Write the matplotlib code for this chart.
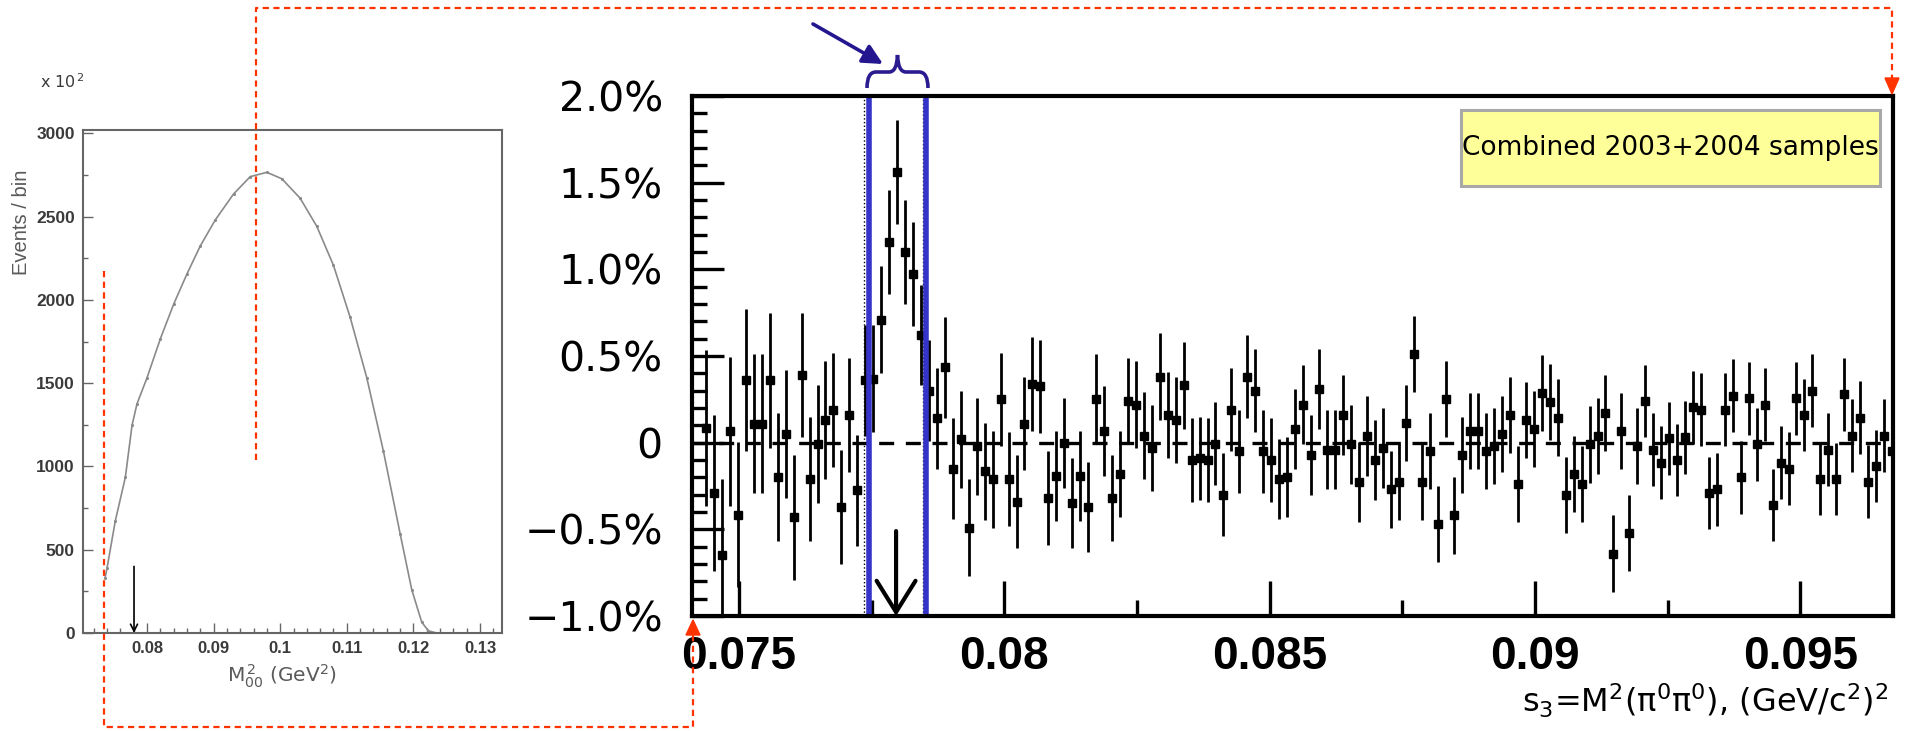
import numpy as np
import matplotlib
matplotlib.use("Agg")
import matplotlib.pyplot as plt
from matplotlib.ticker import MultipleLocator
from matplotlib.patches import Rectangle, Polygon, PathPatch, FancyArrowPatch
from matplotlib.path import Path
from matplotlib.lines import Line2D

FIG_W, FIG_H = 1912, 731

# ---- main panel: residuals per s3 bin, in percent
S3_FIRST_BIN = 0.07438
S3_BIN_WIDTH = 0.00015
residual = [
    0.085, -0.29, -0.65, 0.065, -0.415, 0.36, 0.11, 0.11, 0.36, -0.20,
    0.05, -0.43, 0.39, -0.21, -0.01, 0.13, 0.19, -0.37, 0.16, -0.275,
    0.36, 0.37, 0.71, 1.16, 1.56, 1.10, 0.975, 0.62, 0.30, 0.14,
    0.435, -0.15, 0.02, -0.49, -0.02, -0.165, -0.21, 0.25, -0.21, -0.34,
    0.11, 0.34, 0.325, -0.32, -0.19, 0.0, -0.35, -0.19, -0.37, 0.25,
    0.067, -0.32, -0.18, 0.24, 0.22, 0.04, -0.03, 0.38, 0.16, 0.13,
    0.33, -0.10, -0.09, -0.10, -0.005, -0.30, 0.19, -0.05, 0.38, 0.30,
    -0.05, -0.10, -0.21, -0.20, 0.08, 0.22, -0.07, 0.31, -0.04, -0.04,
    0.16, -0.01, -0.225, 0.04, -0.10, -0.03, -0.27, -0.225, 0.115, 0.51,
    -0.225, -0.05, -0.47, 0.25, -0.42, -0.07, 0.067, 0.067, -0.05, -0.02,
    0.05, 0.16, -0.24, 0.13, 0.08, 0.285, 0.235, 0.145, -0.30, -0.18,
    -0.24, -0.01, 0.04, 0.17, -0.64, 0.067, -0.52, -0.02, 0.24, -0.04,
    -0.115, 0.025, -0.10, 0.03, 0.205, 0.19, -0.29, -0.27, 0.19, 0.27,
    -0.20, 0.255, -0.01, 0.22, -0.36, -0.115, -0.15, 0.255, 0.16, 0.30,
    -0.21, -0.04, -0.21, 0.28, 0.04, 0.145, -0.225, -0.135, 0.04, -0.05,
]
residual_err = [
    0.45, 0.45, 0.44, 0.43, 0.42, 0.41, 0.40, 0.40, 0.39, 0.37,
    0.37, 0.36, 0.36, 0.36, 0.34, 0.34, 0.33, 0.33, 0.33, 0.32,
    0.32, 0.31, 0.31, 0.30, 0.30, 0.30, 0.30, 0.29, 0.29, 0.29,
    0.29, 0.29, 0.28, 0.28, 0.28, 0.28, 0.28, 0.27, 0.27, 0.27,
    0.27, 0.27, 0.27, 0.27, 0.26, 0.26, 0.26, 0.26, 0.26, 0.26,
    0.26, 0.25, 0.25, 0.25, 0.25, 0.25, 0.25, 0.25, 0.25, 0.25,
    0.25, 0.24, 0.24, 0.24, 0.24, 0.24, 0.24, 0.24, 0.24, 0.24,
    0.24, 0.24, 0.23, 0.23, 0.23, 0.23, 0.23, 0.23, 0.23, 0.23,
    0.23, 0.23, 0.23, 0.23, 0.23, 0.23, 0.22, 0.22, 0.22, 0.22,
    0.22, 0.22, 0.22, 0.22, 0.22, 0.22, 0.22, 0.22, 0.22, 0.22,
    0.22, 0.22, 0.22, 0.22, 0.22, 0.22, 0.22, 0.22, 0.22, 0.22,
    0.22, 0.22, 0.22, 0.22, 0.22, 0.22, 0.22, 0.22, 0.21, 0.21,
    0.21, 0.21, 0.21, 0.21, 0.21, 0.21, 0.21, 0.21, 0.21, 0.21,
    0.21, 0.21, 0.21, 0.21, 0.21, 0.21, 0.21, 0.21, 0.21, 0.21,
    0.21, 0.21, 0.21, 0.21, 0.21, 0.21, 0.21, 0.21, 0.21, 0.21,
]

s3_ticks = [0.075, 0.08, 0.085, 0.09, 0.095]
s3_tick_labels = ["0.075", "0.08", "0.085", "0.09", "0.095"]
pct_ticks = [-1.0, -0.5, 0.0, 0.5, 1.0, 1.5, 2.0]
pct_tick_labels = ["\u22121.0%", "\u22120.5%", "0", "0.5%", "1.0%", "1.5%", "2.0%"]

cusp_window = [0.07745, 0.07853]     # blue lines
signal_edges = [0.077356, 0.078468]  # dotted lines
threshold_s3 = 0.07796               # 4 m(pi+)^2

# ---- left panel: M00^2 spectrum
m00_sq = [0.0737, 0.0740, 0.07525, 0.07675, 0.07775, 0.0785, 0.0800, 0.0820,
          0.0840, 0.0860, 0.0880, 0.09025, 0.0930, 0.0955, 0.0980, 0.10025,
          0.1030, 0.1055, 0.1080, 0.1105, 0.1130, 0.1155, 0.1180, 0.11975,
          0.12125, 0.12225, 0.1235]
events_per_bin = [330, 390, 675, 935, 1247, 1376, 1532, 1766,
                  1974, 2156, 2324, 2480, 2636, 2740, 2766, 2727,
                  2610, 2441, 2207, 1896, 1532, 1091, 597, 260,
                  65, 13, 0]
m00_ticks = [0.08, 0.09, 0.1, 0.11, 0.12, 0.13]
m00_tick_labels = ["0.08", "0.09", "0.1", "0.11", "0.12", "0.13"]
event_ticks = [0, 500, 1000, 1500, 2000, 2500, 3000]


def fx(px):
    return px / FIG_W


def fy(py):
    return 1 - py / FIG_H


fig = plt.figure(figsize=(FIG_W / 100, FIG_H / 100), dpi=100)

# ---------------- left panel
ax2 = fig.add_axes([fx(83), fy(633), (502 - 83) / FIG_W, (633 - 130) / FIG_H])
ax2.plot(m00_sq, events_per_bin, color="#8a8a8a", lw=1.2, marker=".", ms=2.5)
ax2.annotate("", xy=(0.07805, 0), xytext=(0.07805, 400),
             arrowprops=dict(arrowstyle="->,head_length=0.5,head_width=0.25",
                             color="black", lw=1.2, shrinkA=0, shrinkB=0))
ax2.set_xlim(0.07039, 0.1333)
ax2.set_ylim(0, 3020)
ax2.set_xticks(m00_ticks, m00_tick_labels, fontsize=12, fontweight="bold",
               family="Liberation Sans", color="#3a3a3a")
ax2.set_yticks(event_ticks, [str(v) for v in event_ticks], fontsize=12.5,
               fontweight="bold", family="Liberation Sans", color="#3a3a3a")
ax2.xaxis.set_minor_locator(MultipleLocator(0.002))
ax2.yaxis.set_minor_locator(MultipleLocator(250))
ax2.tick_params(which="both", direction="in", color="#666666", width=1.0)
ax2.tick_params(which="major", length=7, pad=6)
ax2.tick_params(which="minor", length=3.5)
for sp in ax2.spines.values():
    sp.set_color("#666666")
    sp.set_linewidth(1.5)

fig.text(fx(22), fy(222), "Events / bin", rotation=90, ha="center", va="center",
         fontsize=14.5, color="#5a5a5a", family="Liberation Sans")
fig.text(fx(40), fy(82), "x 10$^{\\,2}$", ha="left", va="center", fontsize=11.5,
         color="#3a3a3a")
fig.text(fx(282), fy(676), "M$_{00}^{\\,2}$ (GeV$^2$)", ha="center", va="center",
         fontsize=14.5, color="#5a5a5a")

# ---------------- main panel
ax = fig.add_axes([fx(692), fy(616), (1893 - 692) / FIG_W, (616 - 96) / FIG_H])
s3 = S3_FIRST_BIN + S3_BIN_WIDTH * np.arange(len(residual))
ax.axhline(0, color="black", lw=2.4, ls=(0, (4.5, 3.5)), zorder=1)
for xv in signal_edges:
    ax.axvline(xv, color="black", lw=1.0, ls=":", zorder=1)
ax.errorbar(s3, residual, yerr=residual_err, fmt="s", ms=5.2, color="black",
            ecolor="black", elinewidth=2.0, capsize=0, zorder=3)
for xv in cusp_window:
    ax.axvline(xv, color="#3434C8", lw=4.0, zorder=4)
ax.annotate("", xy=(threshold_s3, -1.0), xytext=(threshold_s3, -0.51),
            arrowprops=dict(arrowstyle="->,head_length=0.45,head_width=0.28",
                            mutation_scale=50, color="black", lw=3,
                            shrinkA=0, shrinkB=0), zorder=5)

ax.set_xlim(0.074114, 0.096749)
ax.set_ylim(-1.0, 2.0)
ax.set_xticks(s3_ticks, s3_tick_labels, fontsize=33, fontweight="bold",
              family="Liberation Sans")
ax.set_yticks(pct_ticks, pct_tick_labels, fontsize=29.5, family="DejaVu Sans")
ax.xaxis.set_minor_locator(MultipleLocator(0.0025))
ax.yaxis.set_minor_locator(MultipleLocator(0.1))
ax.tick_params(axis="x", which="major", direction="in", length=25, width=2.4, pad=14)
ax.tick_params(axis="x", which="minor", direction="in", length=11.5, width=2.4)
ax.tick_params(axis="y", which="major", direction="in", length=23, width=2.4, pad=21)
ax.tick_params(axis="y", which="minor", direction="in", length=11, width=2.4)
for sp in ax.spines.values():
    sp.set_linewidth(3)
    sp.set_zorder(6)

fig.text(fx(1888), fy(713), "s$_3$=M$^2$(\u03c0$^0$\u03c0$^0$), (GeV/c$^2$)$^2$",
         ha="right", va="baseline", fontsize=23, family="DejaVu Sans")

# legend-like label box
fig.patches.append(Rectangle((fx(1461), fy(186)), (1880 - 1461) / FIG_W, (186 - 110) / FIG_H,
                             transform=fig.transFigure, facecolor="#FFFF99",
                             edgecolor="#A8A8A8", lw=2.2, zorder=5))
fig.text(fx(1670), fy(148), "Combined 2003+2004 samples", ha="center", va="center",
         fontsize=19, family="DejaVu Sans", zorder=6)

# ---------------- slide annotations
red = "#FF3300"
red_paths = [
    [(256, 460), (256, 8), (1892, 8), (1892, 80)],
    [(104, 271), (104, 727), (693, 727), (693, 634)],
]
for pts in red_paths:
    xs = [fx(p[0]) for p in pts]
    ys = [fy(p[1]) for p in pts]
    fig.lines.append(Line2D(xs, ys, transform=fig.transFigure, color=red, lw=1.6,
                            ls=(0, (2.8, 2.0)), zorder=7))
for tri in ([(1885, 78), (1899, 78), (1892, 94)], [(686, 635), (700, 635), (693, 620)]):
    fig.patches.append(Polygon([(fx(a), fy(b)) for a, b in tri], closed=True,
                               transform=fig.transFigure, color=red, zorder=7))

navy = "#24168F"
fig.patches.append(FancyArrowPatch((fx(813), fy(24)), (fx(883), fy(64)),
                                   transform=fig.transFigure,
                                   arrowstyle="-|>,head_length=12,head_width=6",
                                   color=navy, lw=2.6, shrinkA=0, shrinkB=0, zorder=7))

brace_px = [(867, 88), (867, 72), (876, 72), (889, 72), (897, 72), (897.5, 55),
            (898, 72), (906, 72), (919, 72), (928, 72), (928, 88)]
brace_codes = [Path.MOVETO, Path.CURVE3, Path.CURVE3, Path.LINETO, Path.CURVE3,
               Path.CURVE3, Path.CURVE3, Path.CURVE3, Path.LINETO, Path.CURVE3,
               Path.CURVE3]
brace = Path([(fx(a), fy(b)) for a, b in brace_px], brace_codes)
fig.patches.append(PathPatch(brace, transform=fig.transFigure, facecolor="none",
                             edgecolor="#2B1B90", lw=2.6, zorder=7))

fig.savefig("out.png", dpi=100)
